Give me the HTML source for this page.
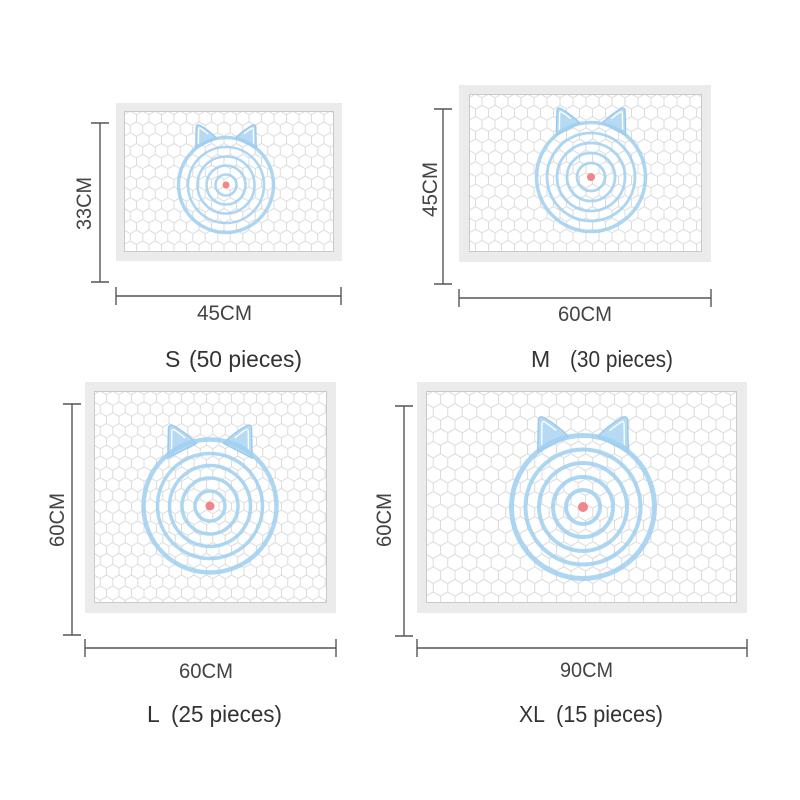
<!DOCTYPE html>
<html>
<head>
<meta charset="utf-8">
<style>
  html,body{margin:0;padding:0;background:#fff;}
  svg{display:block;}
  .dim{font-family:"Liberation Sans",sans-serif;font-size:21px;fill:#444;}
  .lab{font-family:"Liberation Sans",sans-serif;font-size:23px;fill:#333;}
</style>
</head>
<body>
<svg width="800" height="800" viewBox="0 0 800 800" xmlns="http://www.w3.org/2000/svg">
  <defs>
    <pattern id="hexS" patternUnits="userSpaceOnUse" x="124" y="111" width="12.5" height="21.651">
      <path d="M0,3.608 L6.25,0 L12.5,3.608 M0,3.608 V10.825 M12.5,3.608 V10.825 M0,10.825 L6.25,14.434 L12.5,10.825 M6.25,14.434 V21.651" fill="none" stroke="#dcdcdc" stroke-width="1"/>
    </pattern>
    <pattern id="hexM" patternUnits="userSpaceOnUse" x="469" y="94" width="13" height="22.517">
      <path d="M0,3.753 L6.5,0 L13,3.753 M0,3.753 V11.258 M13,3.753 V11.258 M0,11.258 L6.5,15.011 L13,11.258 M6.5,15.011 V22.517" fill="none" stroke="#dcdcdc" stroke-width="1"/>
    </pattern>
    <pattern id="hexL" patternUnits="userSpaceOnUse" x="94" y="391" width="12.5" height="21.651">
      <path d="M0,3.608 L6.25,0 L12.5,3.608 M0,3.608 V10.825 M12.5,3.608 V10.825 M0,10.825 L6.25,14.434 L12.5,10.825 M6.25,14.434 V21.651" fill="none" stroke="#dcdcdc" stroke-width="1"/>
    </pattern>
    <pattern id="hexXL" patternUnits="userSpaceOnUse" x="426" y="391" width="14.5" height="25.115">
      <path d="M0,4.186 L7.25,0 L14.5,4.186 M0,4.186 V12.557 M14.5,4.186 V12.557 M0,12.557 L7.25,16.743 L14.5,12.557 M7.25,16.743 V25.115" fill="none" stroke="#dcdcdc" stroke-width="1"/>
    </pattern>
    <g id="ear">
      <path d="M-0.63,-0.76 L-0.62,-1.19 Q-0.62,-1.28 -0.54,-1.24 Q-0.36,-1.14 -0.2,-0.98 Z" fill="#b6daf3" stroke="#98c9ec" stroke-width="1.4" vector-effect="non-scaling-stroke"/>
      <path d="M-0.575,-0.86 L-0.57,-1.16 Q-0.57,-1.2 -0.53,-1.18 Q-0.45,-1.13 -0.37,-1.06" fill="none" stroke="#ffffff" stroke-width="1.3" vector-effect="non-scaling-stroke"/>
    </g>
    <g id="ears">
      <use href="#ear"/>
      <use href="#ear" transform="scale(-1,1)"/>
    </g>
  </defs>

  <!-- ================= S ================= -->
  <rect x="116" y="103" width="226" height="158" fill="#ebebeb"/>
  <rect x="124" y="111" width="210" height="141" fill="#fff"/>
  <rect x="124" y="111" width="210" height="141" fill="url(#hexS)"/>
  <rect x="124.5" y="111.5" width="209" height="140" fill="none" stroke="#c9c9c9" stroke-width="1"/>
  <use href="#ears" transform="translate(226,185) scale(48)"/>
  <g fill="none" stroke="#9fcff0" stroke-opacity="0.85">
    <circle cx="226" cy="185" r="47.5" stroke-width="3.5"/>
    <circle cx="226" cy="185" r="38" stroke-width="2.6"/>
    <circle cx="226" cy="185" r="28.5" stroke-width="2.6"/>
    <circle cx="226" cy="185" r="19.5" stroke-width="2.6"/>
    <circle cx="226" cy="185" r="10.5" stroke-width="2.6"/>
  </g>
  <circle cx="226" cy="185" r="3.5" fill="#f0868c"/>
  <g stroke="#555" stroke-width="1.4" fill="none">
    <path d="M100,123 V282 M91,123 H109 M91,282 H109"/>
    <path d="M116,296 H341 M116,287 V305 M341,287 V305"/>
  </g>
  <text class="dim" x="197" y="320" textLength="55" lengthAdjust="spacingAndGlyphs">45CM</text>
  <text class="dim" transform="translate(91,203.5) rotate(-90)" text-anchor="middle" textLength="53" lengthAdjust="spacingAndGlyphs">33CM</text>
  <text class="lab" x="165" y="367">S</text>
  <text class="lab" x="189" y="367" textLength="113" lengthAdjust="spacingAndGlyphs">(50 pieces)</text>

  <!-- ================= M ================= -->
  <rect x="459" y="85" width="252" height="177" fill="#ebebeb"/>
  <rect x="469" y="94" width="233" height="158" fill="#fff"/>
  <rect x="469" y="94" width="233" height="158" fill="url(#hexM)"/>
  <rect x="469.5" y="94.5" width="232" height="157" fill="none" stroke="#c9c9c9" stroke-width="1"/>
  <use href="#ears" transform="translate(591,177) scale(55)"/>
  <g fill="none" stroke="#9fcff0" stroke-opacity="0.85">
    <circle cx="591" cy="177" r="54.5" stroke-width="3.6"/>
    <circle cx="591" cy="177" r="44" stroke-width="2.8"/>
    <circle cx="591" cy="177" r="34" stroke-width="2.8"/>
    <circle cx="591" cy="177" r="24" stroke-width="2.8"/>
    <circle cx="591" cy="177" r="14" stroke-width="2.8"/>
  </g>
  <circle cx="591" cy="177" r="4" fill="#f0868c"/>
  <g stroke="#555" stroke-width="1.4" fill="none">
    <path d="M443,109 V284 M434,109 H452 M434,284 H452"/>
    <path d="M459,298 H711 M459,289 V307 M711,289 V307"/>
  </g>
  <text class="dim" x="558" y="321" textLength="54" lengthAdjust="spacingAndGlyphs">60CM</text>
  <text class="dim" transform="translate(437,189.5) rotate(-90)" text-anchor="middle" textLength="55" lengthAdjust="spacingAndGlyphs">45CM</text>
  <text class="lab" x="531" y="367">M</text>
  <text class="lab" x="570" y="367" textLength="103" lengthAdjust="spacingAndGlyphs">(30 pieces)</text>

  <!-- ================= L ================= -->
  <rect x="85" y="382" width="251" height="231" fill="#ebebeb"/>
  <rect x="94" y="391" width="233" height="212" fill="#fff"/>
  <rect x="94" y="391" width="233" height="212" fill="url(#hexL)"/>
  <rect x="94.5" y="391.5" width="232" height="211" fill="none" stroke="#c9c9c9" stroke-width="1"/>
  <use href="#ears" transform="translate(210,509) scale(67)"/>
  <g fill="none" stroke="#9fcff0" stroke-opacity="0.85">
    <circle cx="210" cy="506" r="66.5" stroke-width="4.5"/>
    <circle cx="210" cy="506" r="52.5" stroke-width="3.5"/>
    <circle cx="210" cy="506" r="40.5" stroke-width="3.5"/>
    <circle cx="210" cy="506" r="28" stroke-width="3.5"/>
    <circle cx="210" cy="506" r="15" stroke-width="3.5"/>
  </g>
  <circle cx="210" cy="506" r="4.5" fill="#f0868c"/>
  <g stroke="#555" stroke-width="1.4" fill="none">
    <path d="M72,404 V635 M63,404 H81 M63,635 H81"/>
    <path d="M85,648 H336 M85,639 V657 M336,639 V657"/>
  </g>
  <text class="dim" x="179" y="678" textLength="54" lengthAdjust="spacingAndGlyphs">60CM</text>
  <text class="dim" transform="translate(64,520) rotate(-90)" text-anchor="middle" textLength="54" lengthAdjust="spacingAndGlyphs">60CM</text>
  <text class="lab" x="147" y="722">L</text>
  <text class="lab" x="171" y="722" textLength="111" lengthAdjust="spacingAndGlyphs">(25 pieces)</text>

  <!-- ================= XL ================= -->
  <rect x="417" y="382" width="330" height="231" fill="#ebebeb"/>
  <rect x="426" y="391" width="311" height="212" fill="#fff"/>
  <rect x="426" y="391" width="311" height="212" fill="url(#hexXL)"/>
  <rect x="426.5" y="391.5" width="310" height="211" fill="none" stroke="#c9c9c9" stroke-width="1"/>
  <use href="#ears" transform="translate(583,507) scale(72)"/>
  <g fill="none" stroke="#9fcff0" stroke-opacity="0.85">
    <circle cx="583" cy="507" r="71.5" stroke-width="5"/>
    <circle cx="583" cy="507" r="57.5" stroke-width="4"/>
    <circle cx="583" cy="507" r="44" stroke-width="4"/>
    <circle cx="583" cy="507" r="30" stroke-width="4"/>
    <circle cx="583" cy="507" r="17" stroke-width="4"/>
  </g>
  <circle cx="583" cy="507" r="5" fill="#f0868c"/>
  <g stroke="#555" stroke-width="1.4" fill="none">
    <path d="M404,406 V636 M395,406 H413 M395,636 H413"/>
    <path d="M417,648 H747 M417,639 V657 M747,639 V657"/>
  </g>
  <text class="dim" x="560" y="677" textLength="53" lengthAdjust="spacingAndGlyphs">90CM</text>
  <text class="dim" transform="translate(391,520) rotate(-90)" text-anchor="middle" textLength="54" lengthAdjust="spacingAndGlyphs">60CM</text>
  <text class="lab" x="519" y="722" textLength="26" lengthAdjust="spacingAndGlyphs">XL</text>
  <text class="lab" x="556" y="722" textLength="107" lengthAdjust="spacingAndGlyphs">(15 pieces)</text>
</svg>
</body>
</html>
